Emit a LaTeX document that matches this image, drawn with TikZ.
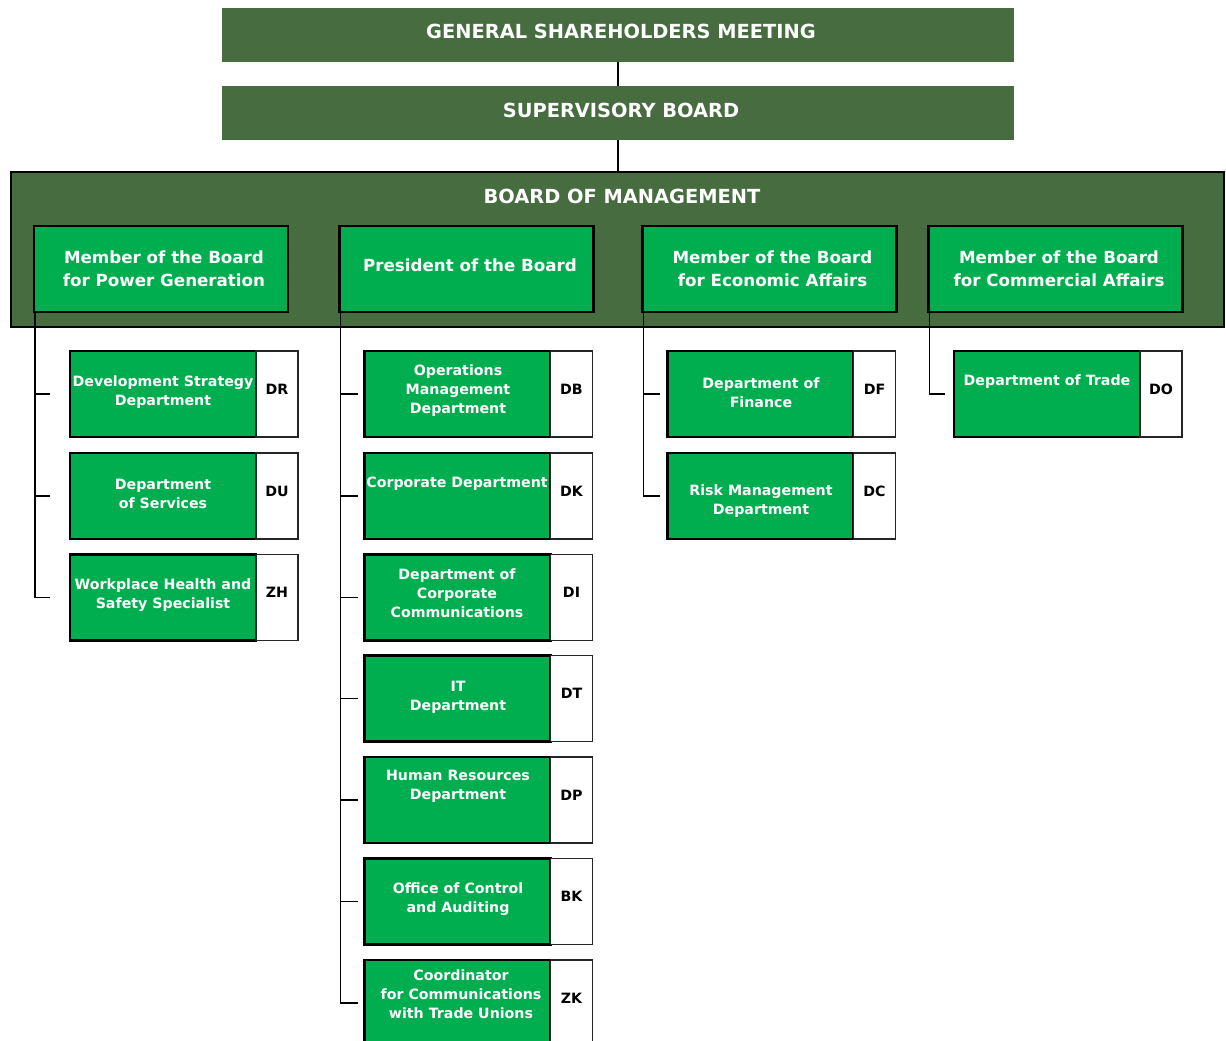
\documentclass[tikz,border=0pt]{standalone}
\usepackage{fontspec}
\setmainfont{DejaVu Sans}
\usetikzlibrary{positioning}

\definecolor{boardgreen}{RGB}{71,108,64}
\definecolor{deptgreen}{RGB}{0,174,80}

\tikzset{
  headbox/.style={fill=boardgreen, minimum width=792pt, minimum height=54pt,
    inner sep=0pt, outer sep=0pt},
  headtext/.style={text=white, font=\bfseries\fontsize{19.4}{23}\selectfont},
  mgmtbox/.style={fill=boardgreen, draw=black, line width=2pt,
    minimum width=1213pt, minimum height=155pt, outer sep=0pt},
  memberbox/.style={fill=deptgreen, draw=black, line width=2.5pt,
    minimum width=254pt, minimum height=86pt, inner sep=0pt, outer sep=0pt},
  membertext/.style={text=white, align=center, inner sep=0pt,
    font=\bfseries\fontsize{16.7}{23}\selectfont},
  deptbox/.style={fill=deptgreen, draw=black, line width=2.5pt,
    minimum width=186pt, minimum height=86pt, outer sep=0pt},
  depttext/.style={text=white, align=center, inner sep=0pt, yshift=-2pt,
    font=\bfseries\fontsize{14.2}{19}\selectfont},
  codebox/.style={fill=white, draw=black!85, line width=1.2pt, anchor=west,
    minimum width=42pt, minimum height=86pt, inner sep=0pt, outer sep=0pt,
    text depth=10pt, font=\bfseries\fontsize{14.2}{17}\selectfont},
  conn/.style={draw=black, line width=1.5pt}
}

\begin{document}
\begin{tikzpicture}[x=1pt,y=-1pt]
  \useasboundingbox (0,0) rectangle (1226,1041);
  \clip (0,0) rectangle (1226,1041);

  % top of the tree
  \node[headbox] (gsm) at (618,35) {};
  \node[headtext] (gsmt) at (621,31) {GENERAL SHAREHOLDERS MEETING};
  \node[headbox] (sb) at (618,113) {};
  \node[headtext] (sbt) at (621,110) {SUPERVISORY BOARD};
  \node[mgmtbox] (bom) at (617.5,249.5) {};
  \node[headtext] (bomt) at (622,196) {BOARD OF MANAGEMENT};
  \draw[conn] (gsm.south) -- (sb.north);
  \draw[conn] (sb.south) -- (sb.south |- bom.north);

  % board members
  \node[memberbox] (pg) at (161,269) {};
  \node[membertext] at (164,268.5) {Member of the Board\\for Power Generation};
  \node[memberbox] (pres) at (466.5,269) {};
  \node[membertext] at (470,265) {President of the Board};
  \node[memberbox] (ea) at (769.5,269) {};
  \node[membertext] at (772.5,268.5) {Member of the Board\\for Economic Affairs};
  \node[memberbox] (ca) at (1055.5,269) {};
  \node[membertext] at (1059,268.5) {Member of the Board\\for Commercial Affairs};

  % power generation
  \node[deptbox] (dr) at (163,394) {};
  \node[depttext] at (163,390.5) {Development Strategy\\Department};
  \node[codebox] (drc) at (dr.east) {DR};
  \node[deptbox] (du) at (163,496) {};
  \node[depttext] at (163,491.5) {Department\\of Services};
  \node[codebox] (duc) at (du.east) {DU};
  \node[deptbox] (zh) at (163,597.5) {};
  \node[depttext] at (163,593) {Workplace Health and\\Safety Specialist};
  \node[codebox] (zhc) at (zh.east) {ZH};

  % president
  \node[deptbox] (db) at (457.5,394) {};
  \node[depttext] at (458,388.5) {Operations\\Management\\Department};
  \node[codebox] (dbc) at (db.east) {DB};
  \node[deptbox] (dk) at (457.5,496) {};
  \node[depttext] at (457,482) {Corporate Department};
  \node[codebox] (dkc) at (dk.east) {DK};
  \node[deptbox] (di) at (457.5,597.5) {};
  \node[depttext] at (457,591) {Department of\\Corporate\\Communications};
  \node[codebox] (dic) at (di.east) {DI};
  \node[deptbox] (dt) at (457.5,698.5) {};
  \node[depttext] at (458,695) {IT\\Department};
  \node[codebox] (dtc) at (dt.east) {DT};
  \node[deptbox] (dp) at (457.5,800) {};
  \node[depttext] at (458,784.5) {Human Resources\\Department};
  \node[codebox] (dpc) at (dp.east) {DP};
  \node[deptbox] (bk) at (457.5,901.5) {};
  \node[depttext] at (458,897.5) {Office of Control\\and Auditing};
  \node[codebox] (bkc) at (bk.east) {BK};
  \node[deptbox] (zk) at (457.5,1003) {};
  \node[depttext] at (461,992) {Coordinator\\for Communications\\with Trade Unions};
  \node[codebox] (zkc) at (zk.east) {ZK};

  % economic affairs
  \node[deptbox] (df) at (760.5,394) {};
  \node[depttext] at (761,390.5) {Department of\\Finance};
  \node[codebox] (dfc) at (df.east) {DF};
  \node[deptbox] (dc) at (760.5,496) {};
  \node[depttext] at (761,499.5) {Risk Management\\Department};
  \node[codebox] (dcc) at (dc.east) {DC};

  % commercial affairs
  \node[deptbox] (do) at (1047,394) {};
  \node[depttext] at (1047,380) {Department of Trade};
  \node[codebox] (doc) at (do.east) {DO};

  % tick ends
  \coordinate (drt) at ([xshift=-20pt]dr.west);
  \coordinate (dut) at ([xshift=-20pt]du.west);
  \coordinate (zht) at ([xshift=-20pt]zh.west);
  \coordinate (dbt) at ([xshift=-7pt]db.west);
  \coordinate (dkt) at ([xshift=-7pt]dk.west);
  \coordinate (dit) at ([xshift=-7pt]di.west);
  \coordinate (dtt) at ([xshift=-7pt]dt.west);
  \coordinate (dpt) at ([xshift=-7pt]dp.west);
  \coordinate (bkt) at ([xshift=-7pt]bk.west);
  \coordinate (zkt) at ([xshift=-7pt]zk.west);
  \coordinate (dft) at ([xshift=-8pt]df.west);
  \coordinate (dct) at ([xshift=-8pt]dc.west);
  \coordinate (dot) at ([xshift=-9pt]do.west);

  % connectors
  \draw[conn] ([xshift=1pt]pg.south west) |- (zht);
  \foreach \t in {drt,dut}
    \draw[conn] ([xshift=1pt]\t -| pg.south west) -- (\t);
  \draw[conn] ([xshift=1pt]pres.south west) |- (zkt);
  \foreach \t in {dbt,dkt,dit,dtt,dpt,bkt}
    \draw[conn] ([xshift=1pt]\t -| pres.south west) -- (\t);
  \draw[conn] ([xshift=1pt]ea.south west) |- (dct);
  \draw[conn] ([xshift=1pt]dft -| ea.south west) -- (dft);
  \draw[conn] ([xshift=1pt]ca.south west) |- (dot);
\end{tikzpicture}
\end{document}
